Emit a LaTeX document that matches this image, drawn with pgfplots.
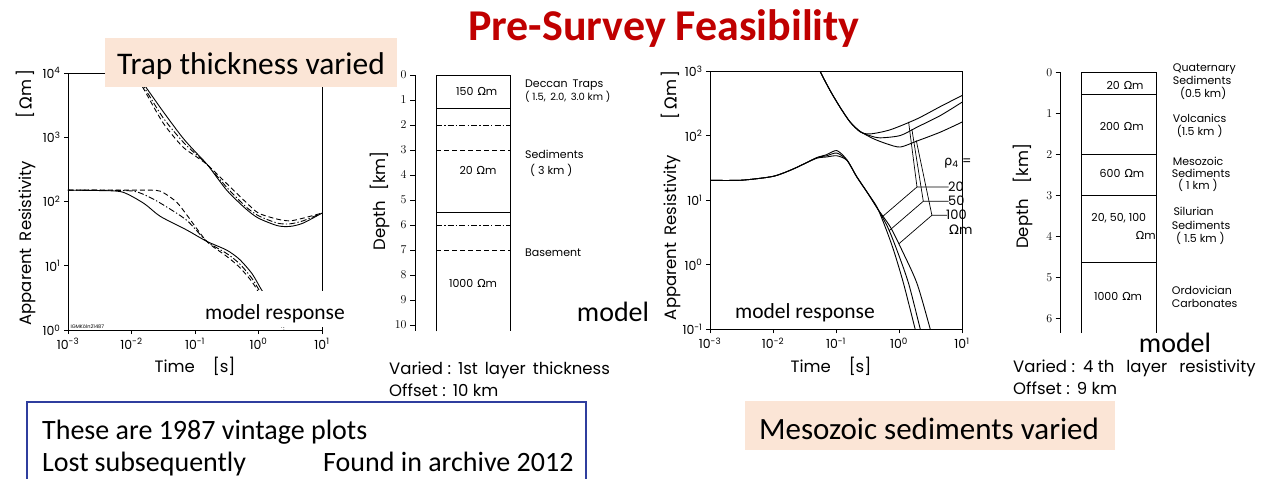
\documentclass[border=0pt]{standalone}
\usepackage{fontspec}
\usepackage{pgfplots}
\pgfplotsset{compat=1.18}
\setmainfont{Carlito}
\newfontfamily\pf{Poppins}
\newfontfamily\gf{DejaVu Sans}
\definecolor{peach}{RGB}{251,229,214}
\definecolor{titlered}{RGB}{192,0,0}
\definecolor{boxblue}{RGB}{47,62,158}
\newcommand{\fs}[1]{\fontsize{#1bp}{#1bp}\selectfont}
\newcommand{\Om}{{\gf Ω}m}
\newcommand{\tl}[1]{10\textsuperscript{#1}}
\tikzset{
  ddot/.style={dash pattern=on 6bp off 2.2bp on 1.3bp off 2.2bp},
  ddash/.style={dash pattern=on 5bp off 3bp},
}
\begin{document}
\begin{tikzpicture}
\path[use as bounding box] (0bp,0bp) rectangle (1275bp,-479bp);

% ---------------- left response plot ----------------
\begin{axis}[xmode=log, ymode=log, scale only axis,
  width=254bp, height=257bp, at={(68bp,-330bp)}, anchor=south west,
  xmin=1e-3, xmax=10, ymin=1, ymax=1e4,
  axis line style={line width=0.9bp, black},
  tick pos=left, tick align=outside, major tick length=4bp,
  tick style={black, line width=0.8bp},
  xminorticks=false, yminorticks=false,
  xtick={1e-3,1e-2,1e-1,1,10},
  xticklabels={\tl{-3},\tl{-2},\tl{-1},\tl{0},\tl{1}},
  ytick={1,10,100,1000,10000},
  yticklabels={\tl{0},\tl{1},\tl{2},\tl{3},\tl{4}},
  ticklabel style={font=\pf\fs{12.5}},
  xticklabel style={yshift=-1bp},
  label style={font=\pf\fs{16.5}},
  xlabel={Time\hspace{18bp}[s]},
  ylabel={Apparent\hspace{7bp}Resistivity\hspace{42bp}[\,\Om\,]},
  xlabel style={at={(axis description cs:0.5,-0.142)}, anchor=center},
  ylabel style={at={(axis description cs:-0.165,0.515)}, anchor=center},
]
% late branch (upper)
\addplot[black, line width=0.9bp, smooth, tension=0.45] coordinates {(0.0118,10000) (0.0158,6600) (0.0316,2500) (0.0631,1000) (0.1,600) (0.158,370) (0.316,150) (0.631,77) (1,55) (2,42) (3.16,41) (5.01,46) (10,66)};
\addplot[black, line width=0.9bp, smooth, tension=0.45, ddot] coordinates {(0.0115,10000) (0.0158,6000) (0.0316,2000) (0.0631,870) (0.1,560) (0.158,370) (0.316,166) (0.631,83) (1,60) (2,46) (3.16,45) (5.01,50) (10,66)};
\addplot[black, line width=0.9bp, smooth, tension=0.45, ddash] coordinates {(0.0112,10000) (0.0158,5500) (0.0316,1660) (0.0631,720) (0.1,515) (0.158,370) (0.316,190) (0.631,98) (1,66) (2,53) (3.16,50) (5.01,55) (10,66)};
% early branch (lower)
\addplot[black, line width=0.9bp, smooth, tension=0.45] coordinates {(0.001,150) (0.00316,148) (0.00724,140) (0.0158,93) (0.0282,59) (0.0741,36) (0.153,24) (0.316,17.5) (0.501,12.6) (0.794,7.5) (1.12,4.2) (1.58,2.6) (2.51,1.3)};
\addplot[black, line width=0.9bp, smooth, tension=0.45, ddot] coordinates {(0.001,150) (0.00316,150) (0.01,146) (0.0158,128) (0.0282,95) (0.0741,51) (0.153,24) (0.316,15.5) (0.501,10.8) (0.794,6.3) (1.12,3.6) (1.58,2.2) (2.51,1.1)};
\addplot[black, line width=0.9bp, smooth, tension=0.45, ddash] coordinates {(0.001,150) (0.01,150) (0.0158,150) (0.0282,145) (0.0501,100) (0.0741,62) (0.153,24) (0.316,14) (0.501,9.5) (0.794,5.6) (1.12,3.2) (1.58,1.9) (2.51,1.0)};
\node[anchor=south west, font=\pf\fs{5}, inner sep=1bp] at (axis cs:0.00105,1.02) {IGMKöln21487};
\end{axis}

% ---------------- right response plot ----------------
\begin{axis}[xmode=log, ymode=log, scale only axis,
  width=252bp, height=258bp, at={(710bp,-329.3bp)}, anchor=south west,
  xmin=1e-3, xmax=10, ymin=0.1, ymax=1000,
  axis line style={line width=0.9bp, black},
  tick pos=left, tick align=outside, major tick length=4bp,
  tick style={black, line width=0.8bp},
  xminorticks=false, yminorticks=false,
  xtick={1e-3,1e-2,1e-1,1,10},
  xticklabels={\tl{-3},\tl{-2},\tl{-1},\tl{0},\tl{1}},
  ytick={0.1,1,10,100,1000},
  yticklabels={\tl{-1},\tl{0},\tl{1},\tl{2},\tl{3}},
  ticklabel style={font=\pf\fs{12.5}},
  xticklabel style={yshift=-1bp},
  label style={font=\pf\fs{16.5}},
  xlabel={Time\hspace{18bp}[s]},
  ylabel={Apparent\hspace{7bp}Resistivity\hspace{36bp}[\,\Om\,]},
  xlabel style={at={(axis description cs:0.48,-0.145)}, anchor=center},
  ylabel style={at={(axis description cs:-0.155,0.52)}, anchor=center},
]
% upper branch: rho4 = 20, 50, 100
\addplot[black, line width=0.9bp, smooth, tension=0.45] coordinates {(0.045,1800) (0.056,1000) (0.081,500) (0.116,277) (0.168,163) (0.242,115) (0.349,107) (0.726,124) (1.93,183) (4.53,284) (10,421)};
\addplot[black, line width=0.9bp, smooth, tension=0.45] coordinates {(0.045,1800) (0.056,1000) (0.081,500) (0.116,277) (0.168,163) (0.242,116) (0.35,100) (0.504,93) (1.047,101) (1.93,136) (4.53,206) (10,332)};
\addplot[black, line width=0.9bp, smooth, tension=0.45] coordinates {(0.045,1800) (0.056,1000) (0.081,500) (0.116,277) (0.168,163) (0.242,117) (0.394,90) (0.643,75) (1.047,67) (1.93,83) (4.53,114) (10,163)};
% lower branch
\addplot[black, line width=0.9bp, smooth, tension=0.45] coordinates {(0.001,20.4) (0.00316,20.5) (0.01,23.5) (0.02,30) (0.0316,37) (0.05,45) (0.0708,47) (0.103,49) (0.149,41.6) (0.214,23) (0.309,13.5) (0.446,7.9) (0.604,3.87) (0.820,1.69) (1.18,0.514) (1.81,0.1) (2.2,0.05)};
\addplot[black, line width=0.9bp, smooth, tension=0.45] coordinates {(0.001,20.4) (0.00316,20.5) (0.01,23.5) (0.02,30) (0.0316,37) (0.05,46) (0.0708,49) (0.103,54) (0.149,42) (0.214,23) (0.309,13.5) (0.446,7.7) (0.659,3.87) (0.927,1.69) (1.42,0.514) (2.18,0.1) (2.6,0.05)};
\addplot[black, line width=0.9bp, smooth, tension=0.45] coordinates {(0.001,20.4) (0.00316,20.5) (0.01,23.5) (0.02,30) (0.0316,37) (0.05,46) (0.0708,51) (0.103,59) (0.149,42.5) (0.214,23.2) (0.309,13.6) (0.457,7.4) (0.727,3.87) (1.112,1.69) (1.93,0.514) (3.14,0.1) (3.8,0.05)};
% annotation leaders
\draw[line width=0.7bp] (axis cs:1.42,164) -- (axis cs:1.93,16.1) -- (axis cs:6.14,16.1);
\draw[line width=0.7bp] (axis cs:0.525,5.40) -- (axis cs:1.93,16.1);
\draw[line width=0.7bp] (axis cs:1.60,127) -- (axis cs:2.43,9.66) -- (axis cs:6.14,9.66);
\draw[line width=0.7bp] (axis cs:0.697,3.38) -- (axis cs:2.43,9.66);
\draw[line width=0.7bp] (axis cs:1.88,84.7) -- (axis cs:3.33,5.86) -- (axis cs:5.78,5.86);
\draw[line width=0.7bp] (axis cs:0.991,2.11) -- (axis cs:3.33,5.86);
\end{axis}

% ---------------- left model column ----------------
\begin{axis}[scale only axis, width=100bp, height=256.25bp,
  at={(415bp,-331.25bp)}, anchor=south west,
  xmin=0, xmax=100, ymin=0, ymax=10.25, y dir=reverse,
  axis x line=none, axis y line*=left,
  axis line style={line width=0.9bp, black},
  tick align=outside, major tick length=5bp,
  tick style={black, line width=0.8bp},
  ytick={0,1,...,10}, yminorticks=false,
  ticklabel style={font=\pf\fs{12}},
  label style={font=\pf\fs{16.5}},
  clip=false,
  ylabel={Depth\hspace{10bp}[km]},
  ylabel style={at={(axis description cs:-0.35,0.51)}, anchor=center},
]
\draw[line width=0.9bp] (axis cs:21,10.25) -- (axis cs:21,0) -- (axis cs:95,0) -- (axis cs:95,10.25);
\addplot[black, line width=0.9bp] coordinates {(21,1.35) (95,1.35)};
\addplot[black, line width=0.9bp, ddot] coordinates {(21,2) (95,2)};
\addplot[black, line width=0.9bp, ddash] coordinates {(21,3) (95,3)};
\addplot[black, line width=0.9bp] coordinates {(21,5.5) (95,5.5)};
\addplot[black, line width=0.9bp, ddot] coordinates {(21,6) (95,6)};
\addplot[black, line width=0.9bp, ddash] coordinates {(21,7) (95,7)};
\end{axis}

% ---------------- right model column ----------------
\begin{axis}[scale only axis, width=100bp, height=260.7bp,
  at={(1060.7bp,-333bp)}, anchor=south west,
  xmin=0, xmax=100, ymin=0, ymax=6.36, y dir=reverse,
  axis x line=none, axis y line*=left,
  axis line style={line width=0.9bp, black},
  tick align=outside, major tick length=5bp,
  tick style={black, line width=0.8bp},
  ytick={0,1,...,6}, yminorticks=false,
  ticklabel style={font=\pf\fs{12}},
  label style={font=\pf\fs{16.5}},
  clip=false,
  ylabel={Depth\hspace{16bp}[km]},
  ylabel style={at={(axis description cs:-0.38,0.525)}, anchor=center},
]
\draw[line width=0.9bp] (axis cs:20.3,6.36) -- (axis cs:20.3,0) -- (axis cs:96,0) -- (axis cs:96,6.36);
\addplot[black, line width=0.9bp] coordinates {(20.3,0.55) (96,0.55)};
\addplot[black, line width=0.9bp] coordinates {(20.3,2) (96,2)};
\addplot[black, line width=0.9bp] coordinates {(20.3,3) (96,3)};
\addplot[black, line width=0.9bp] coordinates {(20.3,4.65) (96,4.65)};
\end{axis}

% ---------------- slide overlays ----------------
\begin{scope}[x=1bp,y=-1bp]
\node[anchor=base, font=\bfseries\fs{44}, text=titlered, inner sep=0] at (664,40) {Pre-Survey Feasibility};

\fill[peach] (105,38) rectangle (397,87);
\node[anchor=base, font=\fs{31.5}, inner sep=0] at (251,74) {Trap thickness varied};

\fill[white] (198,291) rectangle (352,327);
\node[anchor=base, font=\fs{21.5}, inner sep=0] at (275,319) {model response};
\node[anchor=base, font=\fs{21.5}, inner sep=0] at (805,318) {model response};
\node[anchor=base, font=\fs{28}, inner sep=0] at (613,321) {model};
\node[anchor=base, font=\fs{28}, inner sep=0] at (1175,352) {model};

% left model texts
\begin{scope}[font=\pf\fs{11}]
\node at (476.7,91.7) {150\hspace{4bp}\Om};
\node at (478,170) {20\hspace{4bp}\Om};
\node at (473,283) {1000\hspace{4bp}\Om};
\begin{scope}[every node/.style={anchor=west, inner sep=0}]
\node at (525,85) {Deccan\hspace{5bp}Traps};
\node[font=\pf\fs{10}] at (525,97) {( 1.5,\, 2.0,\, 3.0 km )};
\node at (525,154) {Sediments};
\node at (530,170) {( 3 km )};
\node at (525,252.7) {Basement};
\end{scope}
\end{scope}
\node[anchor=base west, font=\pf\fs{16.5}, inner sep=0] at (389,374) {Varied :\hspace{7bp}1st\hspace{7bp}layer\hspace{7bp}thickness};
\node[anchor=base west, font=\pf\fs{16.5}, inner sep=0] at (389,396) {Offset :\hspace{7bp}10 km};

% right model texts
\begin{scope}[font=\pf\fs{11}]
\node at (1125,85) {20\hspace{4bp}\Om};
\node at (1121.7,126.7) {200\hspace{4bp}\Om};
\node at (1122,173) {600\hspace{4bp}\Om};
\node at (1118.8,218) {20, 50, 100};
\node at (1145.8,235) {\Om};
\node at (1118,296.7) {1000\hspace{4bp}\Om};
\begin{scope}[every node/.style={anchor=west, inner sep=0}]
\node at (1172.7,69) {Quaternary};
\node at (1172.7,80.5) {Sediments};
\node at (1180,93) {(0.5 km)};
\node at (1172.7,118.5) {Volcanics};
\node at (1176.7,131.5) {(1.5 km )};
\node at (1172.7,161) {Mesozoic};
\node at (1171.7,173) {Sediments};
\node at (1178,185) {( 1 km )};
\node at (1173.3,211.7) {Silurian};
\node at (1171.7,225) {Sediments};
\node at (1176,238) {( 1.5 km )};
\node at (1171.7,290) {Ordovician};
\node at (1171.7,303) {Carbonates};
\end{scope}
\end{scope}
\node[anchor=base west, font=\pf\fs{16.5}, inner sep=0] at (1013,372) {Varied :\hspace{8bp}4 th\hspace{12bp}layer\hspace{12bp}resistivity};
\node[anchor=base west, font=\pf\fs{16.5}, inner sep=0] at (1013,394) {Offset :\hspace{7bp}9 km};

% rho4 labels
\begin{scope}[font=\pf\fs{13}, every node/.style={anchor=west, inner sep=0}]
\node at (944,163) {{\gf ρ}\textsubscript{4} =};
\node at (948,186.7) {20};
\node at (948,201) {50};
\node at (946,215) {100};
\node at (949,230) {\Om};
\end{scope}

% bottom boxes
\draw[boxblue, line width=1.3bp] (27,402) rectangle (586,490);
\node[anchor=base west, font=\fs{28}, inner sep=0] at (42,439) {These are 1987 vintage plots};
\node[anchor=base west, font=\fs{28}, inner sep=0] at (42,471) {Lost\hspace{6bp}subsequently};
\node[anchor=base west, font=\fs{28}, inner sep=0] at (323,471) {Found in archive 2012};

\fill[peach] (745,401) rectangle (1115,450);
\node[anchor=base, font=\fs{31}, inner sep=0] at (929,439) {Mesozoic sediments varied};
\end{scope}
\end{tikzpicture}
\end{document}
